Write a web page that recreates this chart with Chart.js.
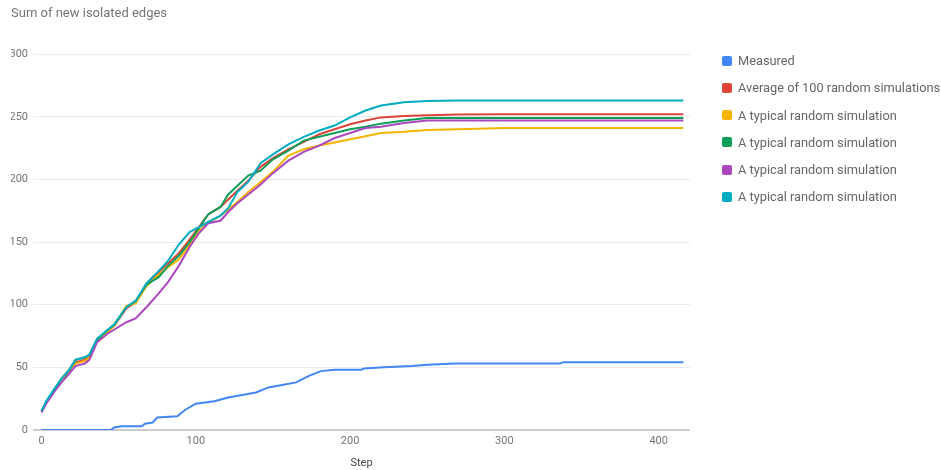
<!DOCTYPE html>
<html>
<head>
<meta charset="utf-8">
<script src="https://cdn.jsdelivr.net/npm/chart.js@4"></script>
<style>
  html, body { margin: 0; padding: 0; background: #fff; overflow: hidden; }
  #wrap { position: relative; width: 941px; height: 470px; }
  #legend { position: absolute; left: 722px; top: 0; font-family: Roboto, sans-serif; font-size: 12.8px; color: #666; }
  .item { position: absolute; left: 0; display: flex; align-items: center; height: 14px; white-space: nowrap; }
  .box { width: 10px; height: 10px; border-radius: 2px; margin-right: 6px; }
</style>
</head>
<body>
<div id="wrap">
  <canvas id="chart" width="941" height="470"></canvas>
  <div id="legend"></div>
</div>
<script>
// steps shared by the simulated series
const steps = [0, 3, 8, 13, 18, 22, 28, 31, 36, 43, 47, 55, 61, 68, 76, 82, 89, 96, 102, 108,
  116, 121, 127, 134, 142, 150, 160, 170, 180, 190, 200, 210, 220, 235, 250, 270, 300, 350, 416];

const average = [15, 22, 31, 40, 47, 54, 56, 59, 71, 79, 83, 97, 102, 115, 126, 133, 141, 152, 162, 172,
  178, 184, 191, 199, 210, 217, 224, 230, 236, 240, 244, 247, 249.5, 250.5, 251.2, 251.8, 252, 252, 252];
const simYellow = [15, 22, 31, 40, 47, 53, 55, 58, 72, 78, 83, 99, 101, 115, 124, 130, 136, 148, 159, 165,
  171, 176, 182, 190, 198, 206, 219, 224, 227, 229.5, 232, 234.5, 237, 238, 239.5, 240, 241, 241, 241];
const simGreen = [15, 22, 32, 41, 48, 56, 58, 60, 72, 80, 84, 98, 103, 116, 122, 131, 139, 150, 161, 172,
  178, 188, 195, 203, 207, 216, 223, 231, 234, 237, 240, 242, 244.5, 247, 249, 249, 249, 249, 249];
const simPurple = [14, 21, 30, 38, 45, 51, 53, 56, 70, 77, 80, 86, 89, 98, 109, 118, 131, 146, 157, 165,
  167, 174, 181, 188, 196, 205, 215, 222, 227, 233, 237, 241, 242, 245, 247, 247, 247, 247, 247];
const simCyan = [15, 23, 32, 41, 48, 56, 58, 60, 73, 80, 84, 98, 103, 117, 127, 135, 148, 158, 162, 166,
  171, 177, 190, 198, 213, 220, 228, 234, 239, 243, 249.5, 255, 259, 261.5, 262.5, 263, 263, 263, 263];

// measured series has its own steps
const measuredSteps = [0, 45, 47, 52, 65, 67, 72, 75, 88, 93, 100, 112, 121, 130, 139, 147, 156, 165,
  173, 181, 190, 207, 209, 222, 240, 250, 268, 336, 338, 416];
const measured = [0, 0, 2, 3, 3, 5, 6, 10, 11, 16, 21, 23, 26, 28, 30, 34, 36, 38,
  43, 47, 48, 48, 49, 50, 51, 52, 53, 53, 54, 54];

const labels = ["Measured", "Average of 100 random simulations", "A typical random simulation",
  "A typical random simulation", "A typical random simulation", "A typical random simulation"];
const colors = ["#4285F4", "#DB4437", "#F4B400", "#0F9D58", "#AB47BC", "#00ACC1"];

const yTicks = [0, 50, 100, 150, 200, 250, 300];
const xTicks = [0, 100, 200, 300, 400];

const toPoints = (xs, ys) => xs.map((x, i) => ({ x: x, y: ys[i] }));
const seriesData = [
  toPoints(measuredSteps, measured),
  toPoints(steps, average),
  toPoints(steps, simYellow),
  toPoints(steps, simGreen),
  toPoints(steps, simPurple),
  toPoints(steps, simCyan),
];

Chart.defaults.font.family = "Roboto, sans-serif";

// later series painted on top (lower order = drawn last)
const datasets = seriesData.map((d, i) => ({
  label: labels[i],
  data: d,
  borderColor: colors[i],
  backgroundColor: colors[i],
  borderWidth: 2,
  pointRadius: 0,
  tension: 0,
  fill: false,
  order: labels.length - 1 - i,
}));

new Chart(document.getElementById("chart"), {
  type: "line",
  data: { datasets: datasets },
  options: {
    responsive: false,
    animation: false,
    layout: { padding: { left: 11, right: 251, top: 0, bottom: 0 } },
    plugins: {
      legend: { display: false },
      tooltip: { enabled: false },
      title: {
        display: true,
        text: "Sum of new isolated edges",
        align: "start",
        color: "#757575",
        font: { size: 13, weight: "normal" },
        padding: { top: 5.5, bottom: 33 },
      },
    },
    scales: {
      x: {
        type: "linear",
        min: -5.5,
        max: 420.3,
        afterBuildTicks: (scale) => {
          scale.ticks = xTicks.map((v) => ({ value: v }));
        },
        afterFit: (scale) => {
          scale.height = 40;
        },
        grid: { display: false, drawTicks: false },
        border: { display: false },
        ticks: { color: "#757575", font: { size: 11 }, padding: 5, maxRotation: 0 },
        title: {
          display: true,
          text: "Step",
          color: "#444",
          font: { size: 11 },
          padding: { top: 0, bottom: 0 },
        },
      },
      y: {
        min: 0,
        max: 300,
        afterBuildTicks: (scale) => {
          scale.ticks = yTicks.map((v) => ({ value: v }));
        },
        afterFit: (scale) => {
          scale.width = 22;
        },
        grid: {
          drawTicks: false,
          color: (ctx) => (ctx.tick && ctx.tick.value === 0 ? "#cccccc" : "#ebebeb"),
          lineWidth: (ctx) => (ctx.tick && ctx.tick.value === 0 ? 2 : 1),
        },
        border: { display: false },
        ticks: { color: "#757575", font: { size: 11 }, padding: 5 },
      },
    },
  },
});

// html legend built from the same labels/colors
const legend = document.getElementById("legend");
labels.forEach((name, i) => {
  const item = document.createElement("div");
  item.className = "item";
  item.style.top = (53.7 + 27.2 * i) + "px";
  const box = document.createElement("div");
  box.className = "box";
  box.style.background = colors[i];
  const txt = document.createElement("span");
  txt.textContent = name;
  item.appendChild(box);
  item.appendChild(txt);
  legend.appendChild(item);
});
</script>
</body>
</html>
